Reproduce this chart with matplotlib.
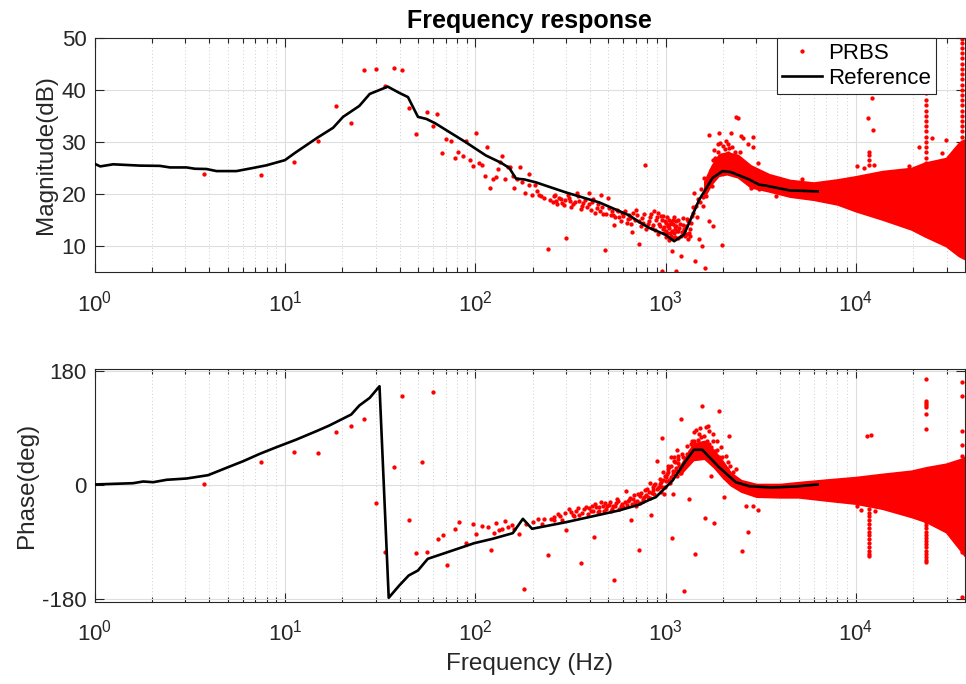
import matplotlib
matplotlib.use("Agg")
import matplotlib.pyplot as plt
from matplotlib.ticker import LogLocator, FixedLocator, NullFormatter

plt.rcParams['font.family'] = ['Liberation Sans', 'DejaVu Sans']
plt.rcParams['mathtext.fontset'] = 'custom'
plt.rcParams['mathtext.rm'] = 'Liberation Sans'
plt.rcParams['mathtext.it'] = 'Liberation Sans:italic'
plt.rcParams['mathtext.bf'] = 'Liberation Sans:bold'
plt.rcParams['axes.unicode_minus'] = False

# reference (black line), magnitude
ref_f_mag = [1.0, 1.07, 1.25, 1.73, 2.2, 2.49, 3.04, 3.36, 3.87, 4.37, 5.56, 6.8, 7.98, 10.0, 11.3,
             14.8, 17.9, 20.2, 24.6, 27.9, 34.7, 39.9, 44.3, 50.0, 55.4, 61.4, 89.5, 113.7, 136.6,
             151, 163.8, 181, 208, 300, 448, 645, 729, 822, 1000, 1110, 1250, 1503, 1768, 1995,
             2207, 2750, 3105, 3380, 4480, 6300]
ref_mag = [25.8, 25.3, 25.7, 25.45, 25.4, 25.1, 25.1, 24.85, 24.8, 24.4, 24.4, 25.0, 25.5, 26.5, 27.9,
           30.8, 32.7, 34.8, 36.9, 39.2, 40.6, 39.4, 38.6, 34.8, 34.4, 33.6, 29.9, 27.4, 26.0,
           25.0, 22.96, 22.8, 22.25, 20.3, 18.4, 15.9, 14.6, 13.5, 12.2, 10.95, 12.2, 18.9, 23.1, 24.4,
           24.2, 22.8, 21.8, 21.6, 20.7, 20.5]

# reference (black line), phase
ref_f_ph = [1.0, 1.59, 1.8, 2.03, 2.39, 3.04, 3.95, 4.93, 6.03, 7.38, 9.0, 11.4, 14.6, 17.1, 22.3,
            24.6, 27.9, 31.4, 35.1, 39.9, 44.7, 50.0, 56.3, 76.1, 98.8, 123.5, 157.5, 178, 198.8,
            300, 570, 729, 822, 890, 1090, 1280, 1410, 1560, 1910, 2340, 2750, 3600, 4800, 6300]
ref_ph = [1.3, 3.3, 6.0, 4.9, 8.7, 10.7, 16, 27.6, 38, 49.7, 60, 71.8, 85.3, 94.3, 111.7,
          125.9, 138, 156.3, -177.5, -158, -142.3, -134.4, -116, -102.8, -91.3, -84.4, -75.5, -52.9, -68.6,
          -58.2, -39.7, -30.3, -22.9, -18.7, 7.6, 39, 56, 56, 28.6, 4.9, -1.4, -3.5, -1.9, 1.3]

# PRBS estimate, magnitude (single points)
prbs_f_mag = [3.75, 7.46, 11.2, 15.0, 18.6, 22.3, 26.0, 30.0, 33.7, 37.2, 41.2, 44.8, 48.6, 56, 59.9,
              63.1, 67.1, 70.4, 74.8, 77.9, 81.1, 86.1, 89.7, 94.1, 97.2, 101.2, 104.5, 108, 112, 115,
              119.8, 124, 128, 131.5, 135, 138.6, 142.5, 148, 153, 157, 160.7, 165, 172, 176, 183.6,
              191, 192.6, 199, 205, 210, 216, 222, 231, 240, 247, 258, 266, 277, 286, 298, 300, 306,
              315, 328, 342, 352, 364, 379, 395, 398, 411, 428, 440, 458, 471, 479, 497, 507, 524,
              539, 554, 572, 591, 615, 633, 651, 667, 678, 700, 723, 728, 752, 774, 783, 805, 828,
              849, 873, 891, 909, 927, 946, 958, 966, 972, 986, 997, 1006, 1010, 1014, 1026, 1035,
              1047, 1047, 1060, 1069, 1075, 1081, 1089, 1099, 1111, 1120, 1127, 1135, 1142, 1150,
              1158, 1158, 1180, 1200, 1206, 1230, 1240, 1256, 1270, 1281, 1306, 1320, 1333, 1350,
              1361, 1388, 1400, 1416, 1433, 1445, 1460, 1475, 1503, 1520, 1535, 1555, 1567, 1580,
              1600, 1619, 1631, 1664, 1684, 1697, 1720, 1733, 1750, 1768, 1782, 1790, 1804, 1820,
              1841, 1860, 1878, 1890, 1918, 1930, 1955, 1960, 1978, 1995, 2010, 2037, 2050, 2076,
              2090, 2119, 2140, 2163, 2180, 2207, 2230, 2251, 2280, 2320, 2345, 2370, 2393, 2420,
              2460, 2490, 2542, 2700, 2811, 2866, 2866, 3044, 3105, 3505, 3800, 5200, 10100, 11000,
              11650, 12200, 12300, 12500, 19000, 21500, 25000, 28500, 29800,
              255, 262, 270, 281, 292, 310, 320, 335, 347, 358, 370, 385, 405, 418, 435, 450, 463,
              485, 515, 530, 545, 562, 580, 600, 625, 642, 660, 690, 712, 740, 760, 790, 815, 838,
              860, 880, 900, 918, 935, 955, 980, 1002, 1020, 1040, 1055, 1085, 1095, 1105, 1115,
              1140, 1165, 1190, 1215, 1250, 1290, 1300, 1340, 1370]
prbs_mag = [23.85, 23.7, 26.15, 30.2, 36.8, 33.6, 43.7, 43.95, 40.8, 44.1, 43.7, 36.5, 31.6, 35.7, 33.0,
            35.4, 27.9, 30.5, 30.1, 27.0, 28.0, 27.2, 30.1, 26.5, 25.3, 31.7, 25.96, 25.6, 23.5, 29.1,
            21.2, 22.8, 23.3, 24.8, 26.2, 27.2, 22.95, 25.2, 25.2, 23.4, 21.2, 22.8, 25.2, 22.3, 20.2,
            23.9, 21.8, 19.9, 21.8, 20.5, 19.9, 19.6, 19.3, 9.4, 18.9, 19.6, 18.6, 19.3, 18.2, 18.8, 11.6, 19.9,
            18.6, 18.0, 20.2, 18.6, 17.7, 18.9, 18.0, 20.2, 18.4, 16.4, 18.0, 19.9, 16.1, 9.2, 19.3, 17.3, 16.7,
            14.0, 17.0, 15.6, 16.4, 16.7, 15.2, 15.4, 12.7, 16.4, 17.0, 10.5, 14.8, 15.4, 16.1, 25.6, 14.2, 15.6,
            13.5, 16.7, 15.1, 16.4, 14.2, 15.7, 5.2, 15.75, 13.2, 12.6, 14.8, 14.5, 13.0, 12.6, 13.8, 14.0,
            15.1, 13.5, 12.5, 11.9, 14.6, 9.0, 15.1, 14.2, 12.6, 11.8, 13.2, 13.8, 5.2, 12.9,
            11.6, 15.1, 13.5, 12.0, 8.1, 15.4, 14.0, 12.9, 11.9, 13.8, 11.3, 14.8, 12.6, 12.0,
            14.5, 16.4, 17.5, 20.2, 7.1, 17.7, 15.5, 19.0, 11.3, 18.5, 20.9, 10.1, 17.7, 19.5,
            23.1, 5.9, 19.6, 22.1, 14.8, 31.4, 23.0, 24.7, 21.5, 26.6, 13.8, 24.0, 28.5, 27.0,
            25.3, 26.8, 29.5, 28.0, 31.8, 29.8, 27.5, 26.0, 10.3, 29.2, 27.5, 26.3, 28.6, 30.1,
            26.2, 27.9, 29.5, 28.8, 26.5, 31.7, 29.0, 27.2, 26.0, 28.0, 34.8, 27.0, 34.6, 26.5,
            28.0, 31.1, 30.7, 29.5, 21.2, 30.9, 29.1, 25.95, 20.9, 22.8, 19.6, 22.9, 25.3, 25.0,
            34.6, 38.5, 32.3, 25.5, 25.3, 29.1, 30.7, 27.9, 30.4,
            18.4, 19.9, 18.0, 19.0, 17.9, 19.2, 17.6, 18.5, 19.6, 17.2, 18.3, 17.5, 17.0, 19.0, 17.3, 16.8, 17.6,
            16.2, 15.9, 16.0, 15.5, 16.8, 14.8, 15.8, 14.5, 16.0, 14.2, 15.0, 15.9, 13.8, 14.5, 13.2, 14.8, 16.2,
            14.0, 13.1, 15.6, 12.4, 13.9, 15.0, 13.6, 11.8, 15.6, 11.2, 14.3, 13.0, 11.5, 15.6, 13.9,
            14.8, 13.0, 14.2, 12.8, 13.3, 12.4, 15.2, 13.2, 15.8]

# PRBS estimate, phase (single points)
prbs_f_ph = [3.75, 7.46, 11.2, 15.0, 18.6, 22.3, 26.0, 30.0, 33.7, 37.2, 41.2, 44.8, 48.6, 52.5, 56,
             59.9, 63.6, 67.6, 71, 77.9, 82, 89.7, 97.2, 101.2, 109, 116.5, 121.3, 124.8, 127.9,
             133.2, 138.6, 142.6, 148.4, 156.4, 160.8, 169.5, 179.5, 185, 200.8, 213.4, 224.5, 231,
             240.6, 250.5, 260.6, 271.5, 286, 300, 309.8, 325, 339, 352.6, 359.6, 374.6, 390, 406,
             410, 419.5, 431.7, 440, 449, 468, 480, 486.6, 502.5, 517, 530, 538, 549, 560, 571.6,
             590, 600, 619.6, 632, 650, 658.8, 677.5, 690, 700, 720, 722.6, 734.5, 758.6, 770, 783,
             800, 805.6, 828.5, 839.6, 850, 863.6, 870, 883.9, 897.8, 910, 920, 940, 946, 957, 960,
             973, 985, 990, 1005, 1007, 1026, 1026, 1047, 1047, 1069, 1069, 1081, 1099, 1099, 1112,
             1125, 1135, 1143, 1158, 1161, 1181, 1200, 1210, 1220, 1240, 1256, 1260, 1270, 1291,
             1300, 1323, 1330, 1343, 1360, 1377, 1390, 1416, 1420, 1433, 1445, 1450, 1475, 1490,
             1503, 1520, 1535, 1555, 1560, 1581, 1600, 1619, 1631, 1650, 1664, 1684, 1697, 1700,
             1733, 1740, 1768, 1780, 1804, 1820, 1826, 1854, 1870, 1900, 1916, 1930, 1955, 1970,
             1995, 2020, 2037, 2060, 2076, 2100, 2119, 2150, 2163, 2190, 2207, 2240, 2270, 2345,
             2393, 2520, 2642, 2700, 2891, 3044, 10100, 11500, 12000, 10600, 12600, 21000, 26000,
             260, 280, 295, 318, 332, 345, 365, 380, 398, 415, 425, 445, 460, 475, 495, 510, 525,
             545, 555, 580, 610, 625, 645, 670, 685, 710, 730, 745, 765, 790, 815, 830, 855, 875,
             900, 930, 950, 965, 995, 1015, 1035, 1055, 1075, 1090, 1105, 1130, 1150, 1170, 1190]
prbs_ph = [1.3, 36, 52.3, 51.2, 83.8, 94.3, 104.8, -28.2, -104.9, 28.6, 141.6, -54.5, -106.5, 36.5, -104.9,
           146.9, -85.5, -79.2, -126.5, -68.7, -58.1, -91.3, -60.8, -76.5, -65, -66, -102.8, -75.5, -59.7,
           -70.2, -68.7, -56.6, -66, -63.4, -68.7, -76.5, -163.3, -61.8, -58.2, -52.9, -61.8, -52.9,
           -110.7, -52.9, -55.5, -45, -54.5, -71.3, -37.1, -47.6, -39.8, -46.1, -122.8, -37.1, -45, -39.8,
           -33, -80.8, -34.5, -42, -39.8, -31.9, -28, -37.1, -30.3, -39.8, -33, -150.2, -28.2, -25, -37.1,
           -29.2, -34, -9.3, -24, -20, -54.5, -21.3, -26, -31.9, -14, -102.8, -16.1, -21.3, -18, -7.2,
           -6, -18.7, 3.4, -47.6, -12, -8.2, 0, 2.3, 38.1, -4, -1.9, 10, 4.9, 74.9, -2,
           20.7, -13.5, 15, 12.8, 7.5, 31.2, 20.7, 7.6, 28.6, 44.4, 12.8, -82.9, 23.3, -13.5, 39.1,
           36.5, 23.3, 15.4, 41.7, 47, 31.2, 104.8, 20, 49.6, 45, -167.5, 30, 36.5, 62.7,
           50, -21.4, 40, 54.9, 65, 70.6, 55, 83.8, 70, -108.1, 44.3, 88, 60.1, 72,
           81.2, 90, 75.9, 125.8, 65, 52.2, 78, -51.3, 91.7, 70, 94.3, 65.4, 41.7, 85,
           13.9, 60, 81.2, 70, -59.8, 40, 54.9, 70.6, 55, 44.3, 116.9, 35, 60.1, 45,
           28.6, 30, -18.7, 20, 47, 25, 36.5, 10, 78.5, 30, 12.8, 8, 20.7, 26,
           4.9, -102.9, -31.9, -72.9, -31.9, -38.7, -32, 78, 79, -39.7, -40, -30, -45,
           -50, -48, -44, -42, -48, -36, -43, -34, -36, -41, -30, -35, -27, -40, -33, -26, -38,
           -32, -22, -33, -27, -31, -23, -29, -15, -24, -28, -12, -25, -15, -10, -20, -3, -14,
           -6, 2, -10, 8, -3, 18, 25, 3, 30, 18, 45, 28, 55, 35, 20]

# PRBS dense band (upper / lower envelope)
band_f_mag = [1600, 1750, 1900, 2100, 2400, 2800, 3500, 4500, 6000, 8000, 10000, 13800, 19600,
              23000, 29800, 34800, 37500]
band_mag_lo = [19.5, 22, 23.5, 23.8, 23.2, 21.3, 20.5, 19.5, 18.9, 18.0, 16.7, 15.1, 13.2,
               11.9, 10.0, 8.1, 7.5]
band_mag_hi = [22.5, 25.5, 27.5, 28.0, 27.5, 25.5, 23.8, 22.7, 22.2, 22.8, 23.4, 24.4, 25.0,
               26.0, 26.9, 29.8, 30.5]

band_f_ph = [1200, 1400, 1600, 1800, 2000, 2200, 2500, 3000, 4000, 5000, 7000, 10000, 13800,
             19600, 23500, 29800, 36000, 37500]
band_ph_lo = [18, 40, 42, 28, 12, 0, -10, -18, -19, -19, -24, -29, -37, -50, -58, -74, -105, -112]
band_ph_hi = [32, 66, 70, 55, 38, 20, 8, 2, 2, 5, 9, 13, 18, 23, 28.5, 34, 42, 45]

# PRBS spikes (stacks of points at one frequency)
spike_f_mag = [11700, 23500, 36100]
spike_mag = [[25.5, 26.5, 27.5, 28.0],
             [26, 27, 28, 29, 30, 31, 32, 33, 34, 35, 36, 37, 38, 39.4],
             [30, 31, 32, 33, 34, 35, 36, 37, 38, 39, 40, 41, 42, 43, 44, 45, 46, 47, 48, 49, 49.8]]
spike_f_ph = [11700, 23500, 23500, 36100, 36100]
spike_ph = [[-37, -43, -49, -55, -61, -67, -73, -79, -85, -91, -97, -103, -108, -111],
            [-58, -63, -68, -73, -78, -83, -88, -93, -98, -103, -108, -113, -118, -121],
            [89, 113, 124, 127, 130, 133, 168],
            [-45, -52, -59, -66, -73, -80, -87, -94, -101, -105, -176.5],
            [47, 62.8, 86.4, 141.6, 162.6]]

dark = '#262626'

fig = plt.figure(figsize=(9.66, 6.84), dpi=100)
ax1 = fig.add_axes([0.098, 0.602, 0.901, 0.343])
ax2 = fig.add_axes([0.098, 0.120, 0.901, 0.341])

dot = dict(color='red', marker='o', ms=3.1, mew=0, ls='none', zorder=2)

# magnitude
ax1.fill_between(band_f_mag, band_mag_lo, band_mag_hi, color='red', lw=1.2, zorder=2)
for f, vals in zip(spike_f_mag, spike_mag):
    ax1.plot([f] * len(vals), vals, **dot)
ax1.plot(prbs_f_mag, prbs_mag, label='PRBS', **dot)
ax1.plot(ref_f_mag, ref_mag, color='black', lw=1.9, label='Reference', zorder=3)

# phase
ax2.fill_between(band_f_ph, band_ph_lo, band_ph_hi, color='red', lw=1.2, zorder=2)
for f, vals in zip(spike_f_ph, spike_ph):
    ax2.plot([f] * len(vals), vals, **dot)
ax2.plot(prbs_f_ph, prbs_ph, **dot)
ax2.plot(ref_f_ph, ref_ph, color='black', lw=1.9, zorder=3)

for ax in (ax1, ax2):
    ax.set_xscale('log')
    ax.set_xlim(1, 37500)
    ax.xaxis.set_major_locator(LogLocator(base=10, numticks=10))
    ax.xaxis.set_minor_locator(LogLocator(base=10, subs=range(2, 10), numticks=100))
    ax.xaxis.set_minor_formatter(NullFormatter())
    ax.grid(True, which='major', color='#dedede', lw=0.8, ls='-')
    ax.grid(True, which='minor', axis='x', color='#cfcfcf', lw=0.7, ls=(0, (1, 2.5)))
    ax.set_axisbelow(True)
    ax.tick_params(which='both', direction='in', top=True, right=True, colors=dark,
                   labelsize=16, width=0.8)
    ax.tick_params(which='major', length=6.3)
    ax.tick_params(which='minor', length=3.8)
    ax.tick_params(axis='x', which='both', pad=13)
    ax.tick_params(axis='y', which='both', pad=6)
    for s in ax.spines.values():
        s.set_color(dark)
        s.set_linewidth(0.8)

ax1.set_ylim(5, 50)
ax1.yaxis.set_major_locator(FixedLocator([10, 20, 30, 40, 50]))
ax1.set_ylabel('Magnitude(dB)', fontsize=17.5, color=dark, labelpad=3)
ax1.set_title('Frequency response', fontsize=18, fontweight='bold', color='black', pad=7)

ax2.set_ylim(-184, 184)
ax2.yaxis.set_major_locator(FixedLocator([-180, 0, 180]))
ax2.set_ylabel('Phase(deg)', fontsize=17.5, color=dark, labelpad=3)
ax2.set_xlabel('Frequency (Hz)', fontsize=17.5, color=dark, labelpad=5)

leg = ax1.legend(loc='upper right', bbox_to_anchor=(0.967, 1.0), borderaxespad=0,
                 fontsize=16, fancybox=False, framealpha=1, edgecolor=dark,
                 handlelength=1.8, handletextpad=0.25, borderpad=0.25, labelspacing=0.15)
leg.get_frame().set_linewidth(0.8)
for t in leg.get_texts():
    t.set_color('black')

fig.savefig('out.png', dpi=100)
